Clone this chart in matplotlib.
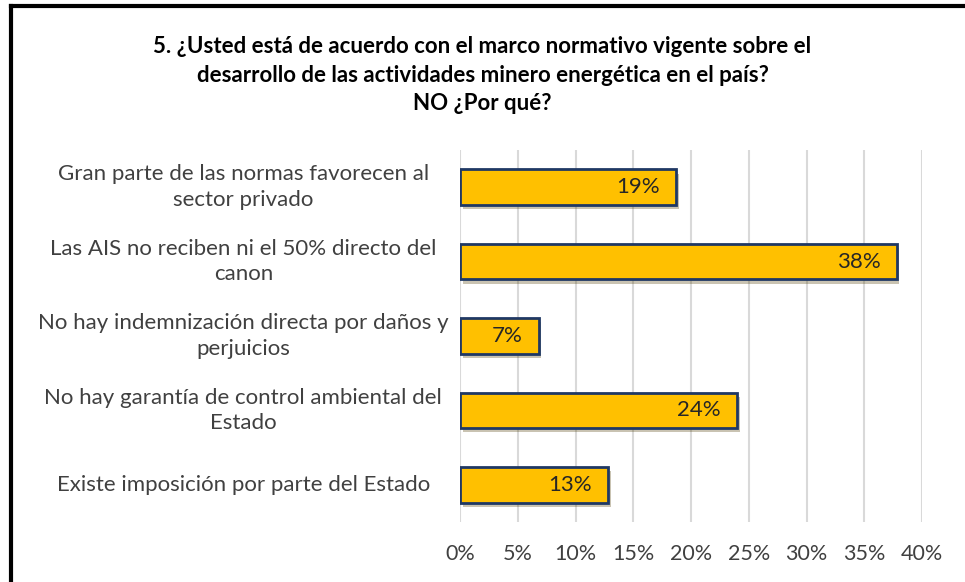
import matplotlib.pyplot as plt
import matplotlib.patheffects as pe
from matplotlib.lines import Line2D

categories = [
    "Gran parte de las normas favorecen al\nsector privado",
    "Las AIS no reciben ni el 50% directo del\ncanon",
    "No hay indemnización directa por daños y\nperjuicios",
    "No hay garantía de control ambiental del\nEstado",
    "Existe imposición por parte del Estado",
]
values = [0.187, 0.378, 0.068, 0.24, 0.128]
value_labels = ["19%", "38%", "7%", "24%", "13%"]
ticks = [0, 0.05, 0.10, 0.15, 0.20, 0.25, 0.30, 0.35, 0.40]
tick_labels = ["0%", "5%", "10%", "15%", "20%", "25%", "30%", "35%", "40%"]

plt.rcParams['font.family'] = ['Lato', 'DejaVu Sans']

fig = plt.figure(figsize=(9.65, 5.82), dpi=100)
ax = fig.add_axes([460 / 965, 1 - 522 / 582, 462 / 965, 372 / 582])

pos = list(range(len(categories)))[::-1]
bars = ax.barh(pos, values, height=0.48, color='#FFC000', edgecolor='#1F3864', linewidth=2, zorder=3)
for b in bars:
    b.set_path_effects([pe.SimplePatchShadow(offset=(2, -3), alpha=0.3), pe.Normal()])

for b, lab in zip(bars, value_labels):
    ax.text(b.get_width() - 0.014, b.get_y() + b.get_height() / 2, lab,
            ha='right', va='center', fontsize=16, color='#262626', zorder=4)

ax.set_xlim(0, 0.40)
ax.set_ylim(-0.5, 4.5)
ax.set_xticks(ticks)
ax.set_xticklabels(tick_labels, fontsize=15.5, color='#404040')
ax.set_yticks(pos)
ax.set_yticklabels(categories, fontsize=16, color='#404040', ha='center', multialignment='center',
                   linespacing=1.35, va='center')
ax.tick_params(axis='y', length=0, pad=156)
ax.tick_params(axis='x', length=0, pad=16)
ax.xaxis.grid(True, color='#D9D9D9', linewidth=1.5, zorder=0)
for s in ax.spines.values():
    s.set_visible(False)

fig.text(0.5, 1 - 75 / 582, "5. ¿Usted está de acuerdo con el marco normativo vigente sobre el\n"
         "desarrollo de las actividades minero energética en el país?\nNO ¿Por qué?",
         ha='center', va='center', fontsize=16, fontweight='bold', color='#000000', linespacing=1.45)

# outer frame
fig.add_artist(Line2D([11 / 965, 11 / 965], [0, 1 - 6 / 582], color='black', linewidth=3, transform=fig.transFigure))
fig.add_artist(Line2D([11 / 965, 1], [1 - 6 / 582, 1 - 6 / 582], color='black', linewidth=3, transform=fig.transFigure))

fig.savefig('out.png', dpi=100)
